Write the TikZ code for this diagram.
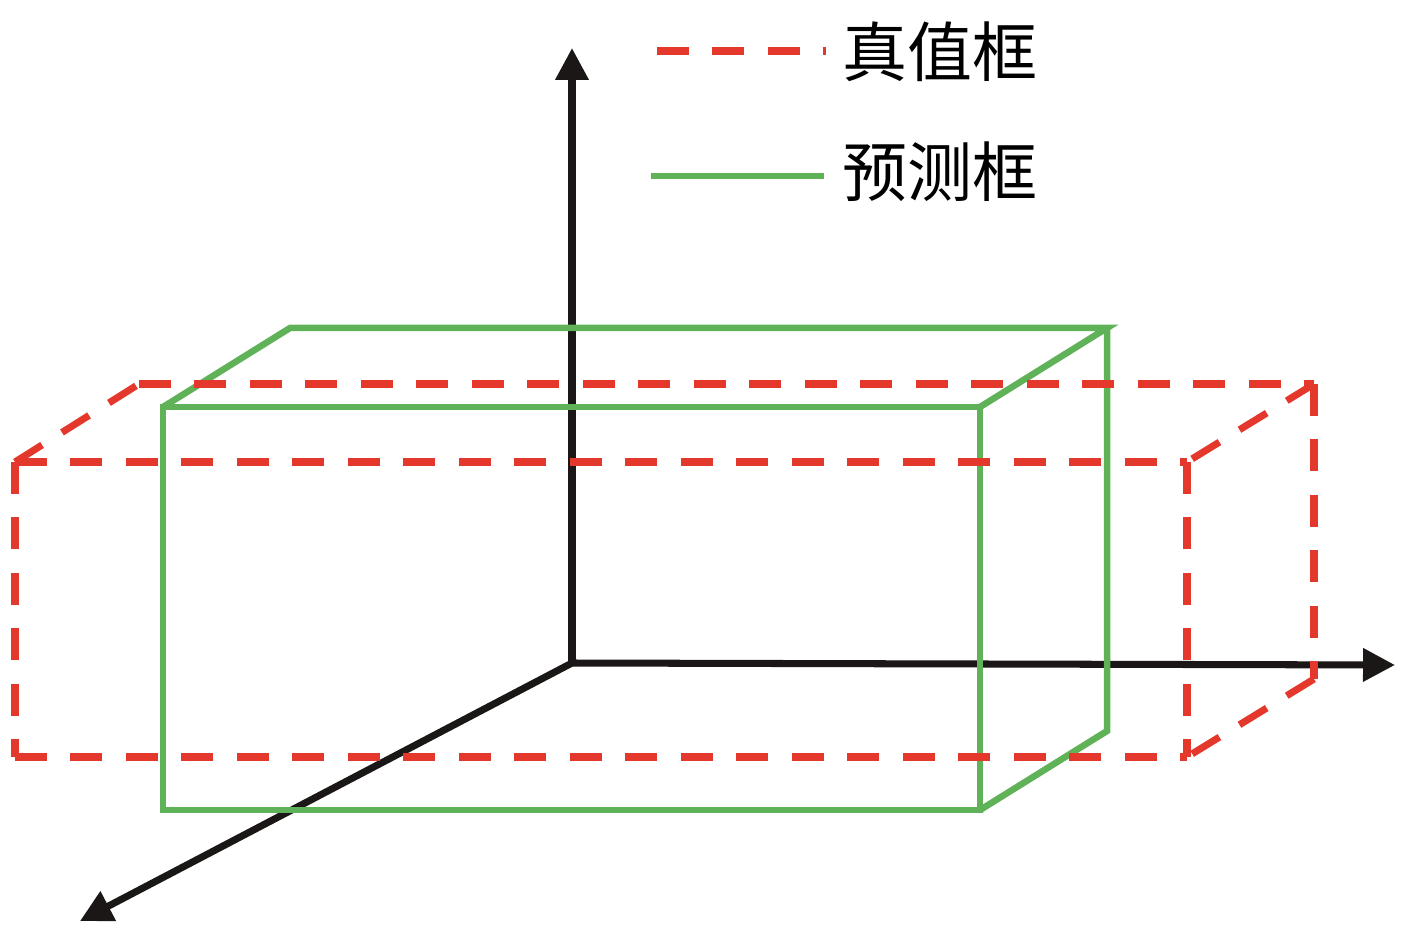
\documentclass[tikz,border=0pt]{standalone}
\usepackage{fontspec}
\newfontfamily\cjk{Noto Sans CJK SC}
\usetikzlibrary{arrows.meta}
\definecolor{truered}{RGB}{229,56,44}
\definecolor{predgreen}{RGB}{96,178,88}
\definecolor{axisblack}{RGB}{26,23,22}

\begin{document}
\begin{tikzpicture}[x=0.02cm,y=-0.02cm,
    axis/.style={axisblack,line width=4pt,-{Triangle[length=0.64cm,width=0.64cm]}},
    truth/.style={truered,line width=4pt,dash pattern=on 0.64cm off 0.47cm},
    pred/.style={predgreen,line width=3.7pt}]
      \useasboundingbox (0,0) rectangle (1417,949);

      % axes
      \coordinate (O) at (572,663);
      \coordinate (zend) at (572,48);
      \coordinate (xend) at (1395,665);
      \coordinate (yend) at (80,921);
      \draw[axis] (O) -- (zend);
      \draw[axis] (O) -- (xend);
      \draw[axis] (O) -- (yend);

      % predicted box
      \coordinate (ptl) at (163,407);
      \coordinate (ptr) at (980,407);
      \coordinate (pbr) at (980,810);
      \coordinate (pbl) at (163,810);
      \coordinate (pbacktl) at (290,328);
      \coordinate (pbacktr) at (1107,328);
      \coordinate (pbackbr) at (1107,731);
      \draw[pred] (ptl) -- (ptr) -- (pbr) -- (pbl) -- cycle;
      \draw[pred] (ptl) -- (pbacktl) -- (pbacktr) -- (ptr);
      \draw[pred] (pbacktr) -- (pbackbr) -- (pbr);

      % ground truth box, one edge at a time so dashes start at corners
      \coordinate (ttl) at (15,462);
      \coordinate (ttr) at (1187,462);
      \coordinate (tbr) at (1187,757);
      \coordinate (tbl) at (15,757);
      \coordinate (tbacktl) at (139,384);
      \coordinate (tbacktr) at (1314,384);
      \coordinate (tbackbr) at (1314,679);
      \foreach \a/\b in {ttl/ttr, ttr/tbr, tbl/tbr, ttl/tbl, ttl/tbacktl,
                         tbacktl/tbacktr, tbacktr/ttr, tbacktr/tbackbr, tbackbr/tbr}
        \draw[truth] (\a) -- (\b);

      % legend
      \node (truthlabel) at (940,52) {\cjk\fontsize{37}{40}\selectfont 真值框};
      \node (predlabel) at (940,172) {\cjk\fontsize{37}{40}\selectfont 预测框};
      \coordinate (truthkeyA) at (657,51);
      \coordinate (truthkeyB) at (826,51);
      \coordinate (predkeyA) at (651,176);
      \coordinate (predkeyB) at (824,176);
      \draw[truth] (truthkeyA) -- (truthkeyB);
      \draw[pred] (predkeyA) -- (predkeyB);
\end{tikzpicture}
\end{document}
